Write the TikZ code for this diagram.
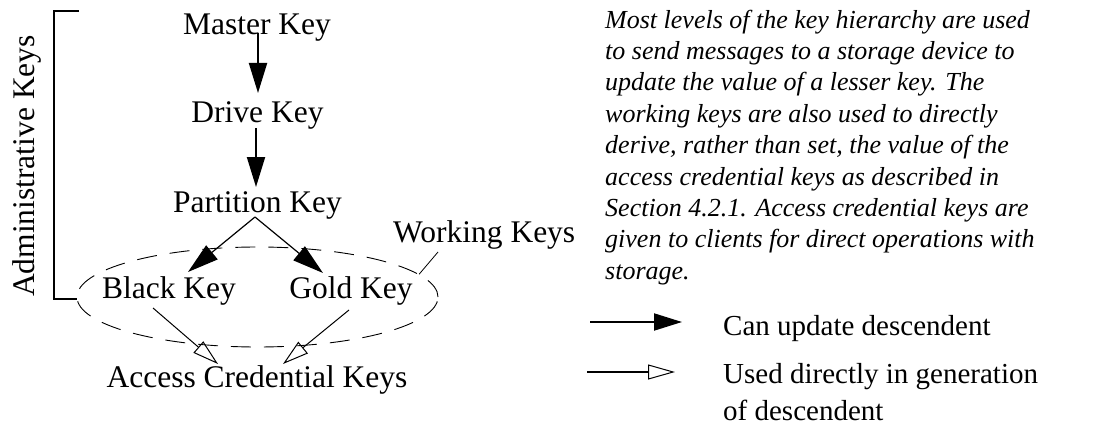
\documentclass[tikz,border=0pt]{standalone}
\usepackage{fontspec}
\setmainfont{Liberation Serif}
\usetikzlibrary{arrows.meta,shapes.geometric}
\begin{document}
\begin{tikzpicture}[x=1pt,y=-1pt,
  lbl/.style={inner sep=0pt, anchor=base, font=\fontsize{31.5}{36}\selectfont},
  legtext/.style={inner sep=0pt, anchor=base west, align=left, font=\fontsize{29}{37}\selectfont},
  note/.style={inner sep=0pt, anchor=north west, align=left, font=\fontsize{26}{31.4}\selectfont\itshape},
  upd/.style={line width=2pt, -{Triangle[length=30pt,width=18pt]}},
  updthin/.style={line width=1.2pt, -{Triangle[length=31pt,width=18pt]}},
  gen/.style={line width=1pt, -{Triangle[open,length=26pt,width=15pt]}},
  groupring/.style={draw, ellipse, line width=0.9pt, dash pattern=on 20pt off 13pt, inner sep=0pt},
  bracketline/.style={line width=2pt}]
\useasboundingbox (0,0) rectangle (1097,425);

% the working-key group
\node[groupring, minimum width=361pt, minimum height=100pt] (wk) at (257.5,297) {};

% key hierarchy
\node[lbl] (master) at (257,35) {Master Key};
\node[lbl] (drive) at (257.5,123) {Drive Key};
\node[lbl] (part) at (257.5,212) {Partition Key};
\node[lbl] (black) at (169,298) {Black Key};
\node[lbl] (gold) at (351,298) {Gold Key};
\node[lbl] (access) at (257,387) {Access Credential Keys};

\draw[upd] ([shift={(1pt,2pt)}]master.base) -- ([shift={(0.5pt,30pt)}]drive.base);
\draw[upd] ([shift={(-1.5pt,-5pt)}]drive.base) -- ([shift={(-1.5pt,25pt)}]part.base);
\draw[updthin] ([shift={(-2.5pt,-5pt)}]part.base) -- ([shift={(19pt,26pt)}]black.base);
\draw[updthin] ([shift={(-2.5pt,-5pt)}]part.base) -- ([shift={(-28pt,25pt)}]gold.base);
\draw[gen] ([shift={(-16pt,-10pt)}]black.base) -- ([shift={(-39pt,23pt)}]access.base);
\draw[gen] ([shift={(-2pt,-12pt)}]gold.base) -- ([shift={(26pt,23pt)}]access.base);

% group labels
\node[lbl, anchor=base west] (wlabel) at (393,242) {Working Keys};
\draw[line width=0.8pt] ([shift={(45pt,-10pt)}]wlabel.base west) -- (wk.8);

\node[lbl, rotate=90] (admin) at (34,166) {Administrative Keys};
\coordinate (brTop) at (79,11);
\coordinate (brTopL) at (54,11);
\coordinate (brBotL) at (54,299);
\coordinate (brBot) at (77,299);
\draw[bracketline] (brTop) -- (brTopL) -- (brBotL) -- (brBot);

% explanatory note
\node[note] (txt) at (605,9.5) {Most levels of the key hierarchy are used\\
to send messages to a storage device to\\
update the value of a lesser key. The\\
working keys are also used to directly\\
derive, rather than set, the value of the\\
access credential keys as described in\\
Section 4.2.1. Access credential keys are\\
given to clients for direct operations with\\
storage.};

% legend
\coordinate (l1a) at (590,322);
\coordinate (l1b) at (682,322);
\draw[line width=2pt, -{Triangle[length=28pt,width=17pt]}] (l1a) -- (l1b);
\node[legtext] (leg1) at (723,335) {Can update descendent};

\coordinate (l2a) at (587,372);
\coordinate (l2b) at (675,372);
\draw[line width=2pt, -{Triangle[open,length=27pt,width=15pt,line width=1pt]}] (l2a) -- (l2b);
% a two-line node sits on the baseline of its last line
\node[legtext] (leg2) at (723,420) {Used directly in generation\\of descendent};
\end{tikzpicture}
\end{document}
